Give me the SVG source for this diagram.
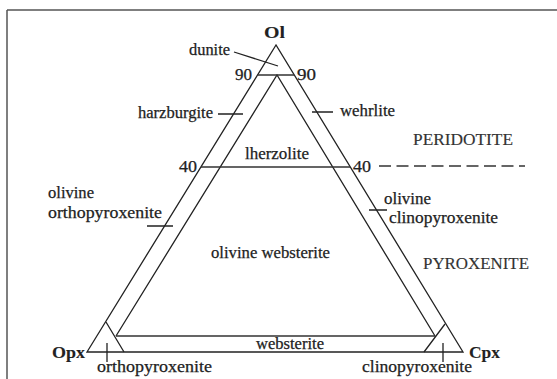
<svg xmlns="http://www.w3.org/2000/svg" width="557" height="379" viewBox="0 0 557 379">
<style>
.ln{stroke:#222;stroke-width:1.3;fill:none}
.hl{stroke:#333;stroke-width:1.6;fill:none}
.fr{stroke:#555;stroke-width:1.5;fill:none}
text{font-family:"Liberation Serif","Times New Roman",serif;font-size:16px;fill:#222;stroke:#222;stroke-width:0.25}
.b{font-weight:bold;font-size:17px;stroke-width:0.1}
.cap{font-size:16.5px;fill:#333;stroke:#333;stroke-width:0.15}
</style>
<rect width="557" height="379" fill="#fff"/>
<g id="frame">
<path class="fr" d="M7,10H557M7,10V379"/>
</g>
<g id="triangle">
<path class="ln" d="M276,45L87,352H463Z"/>
<path class="ln" d="M116,336L277,75L435,336"/>
<path class="ln" d="M106,322L124,352M445,324L424,352"/>
<path class="hl" d="M257,75H294M201,167H350M116,336H435"/>
<path class="hl" d="M379,166H525" stroke-dasharray="12 5.5"/>
</g>
<g id="ticks">
<path class="ln" d="M218,114H243M312,112H333M147,226H173M369,210H387M107,343V362M443,343V362M234,52L278,66"/>
</g>
<g id="labels">
<text class="b" x="264" y="38" textLength="21" lengthAdjust="spacingAndGlyphs">Ol</text>
<text x="189" y="55" textLength="41" lengthAdjust="spacingAndGlyphs">dunite</text>
<text x="235" y="80" textLength="17" lengthAdjust="spacingAndGlyphs">90</text>
<text x="297" y="80" textLength="19" lengthAdjust="spacingAndGlyphs">90</text>
<text x="138" y="118" textLength="75" lengthAdjust="spacingAndGlyphs">harzburgite</text>
<text x="340" y="116" textLength="55" lengthAdjust="spacingAndGlyphs">wehrlite</text>
<text class="cap" x="413" y="145" textLength="100" lengthAdjust="spacingAndGlyphs">PERIDOTITE</text>
<text x="245" y="159" textLength="64" lengthAdjust="spacingAndGlyphs">lherzolite</text>
<text x="179" y="172" textLength="18" lengthAdjust="spacingAndGlyphs">40</text>
<text x="353" y="172" textLength="18" lengthAdjust="spacingAndGlyphs">40</text>
<text x="48" y="198" textLength="46" lengthAdjust="spacingAndGlyphs">olivine</text>
<text x="48" y="218" textLength="114" lengthAdjust="spacingAndGlyphs">orthopyroxenite</text>
<text x="384" y="204" textLength="47" lengthAdjust="spacingAndGlyphs">olivine</text>
<text x="389" y="223" textLength="109" lengthAdjust="spacingAndGlyphs">clinopyroxenite</text>
<text x="211" y="258" textLength="119" lengthAdjust="spacingAndGlyphs">olivine websterite</text>
<text class="cap" x="423" y="269" textLength="106" lengthAdjust="spacingAndGlyphs">PYROXENITE</text>
<text x="256" y="349" textLength="68" lengthAdjust="spacingAndGlyphs">websterite</text>
<text class="b" x="52" y="358" textLength="33" lengthAdjust="spacingAndGlyphs">Opx</text>
<text class="b" x="469" y="358" textLength="31" lengthAdjust="spacingAndGlyphs">Cpx</text>
<text x="97" y="372" textLength="115" lengthAdjust="spacingAndGlyphs">orthopyroxenite</text>
<text x="362" y="372" textLength="110" lengthAdjust="spacingAndGlyphs">clinopyroxenite</text>
</g>
</svg>
